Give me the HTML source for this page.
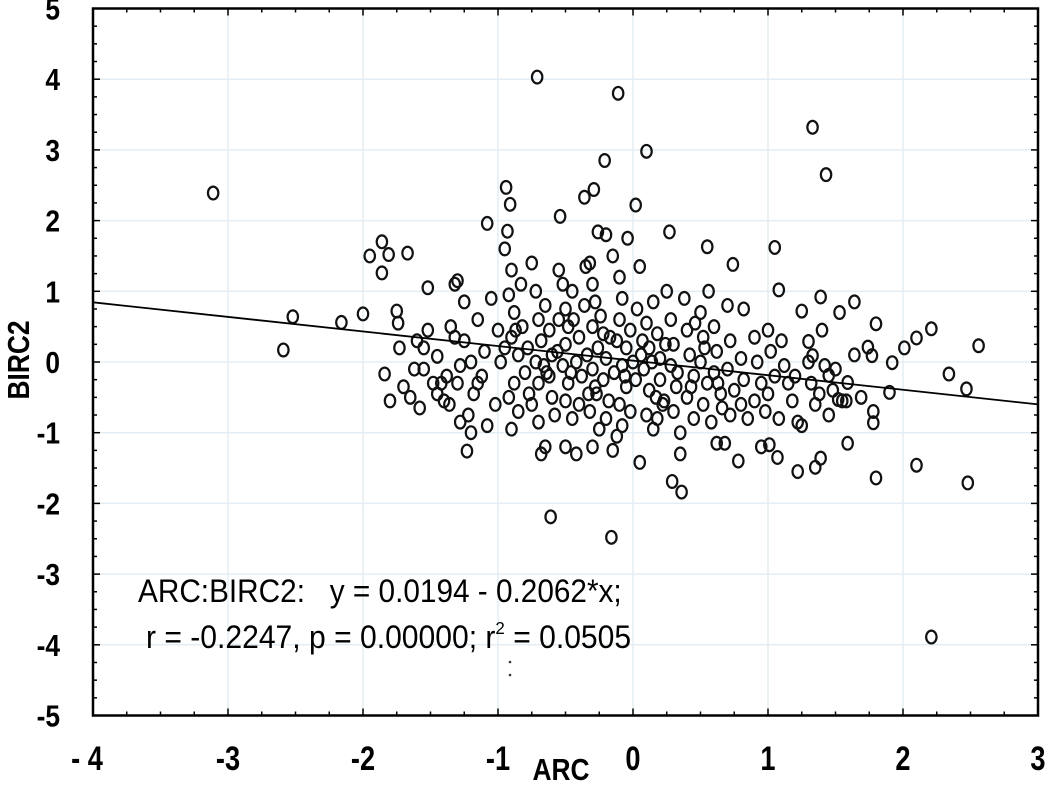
<!DOCTYPE html>
<html><head><meta charset="utf-8"><style>
html,body{margin:0;padding:0;background:#fff;}
svg{display:block;font-family:"Liberation Sans",Arial,sans-serif;}
</style></head><body>
<svg id="chart" width="1050" height="786" viewBox="0 0 1050 786">
<g id="grid"></g>
<g id="points"></g>
<g id="axes"></g>
<g transform="translate(29 360) rotate(-90) scale(0.85 1)"><text x="0" y="0" text-anchor="middle" font-size="31" font-weight="bold">BIRC2</text></g>
<g transform="translate(561 780) scale(0.85 1)"><text x="0" y="0" text-anchor="middle" font-size="31" font-weight="bold">ARC</text></g>
<text x="138" y="602" font-size="32" transform="translate(138 0) scale(0.93 1) translate(-138 0)">ARC:BIRC2:&#160;&#160;&#160;y = 0.0194 - 0.2062*x;</text>
<text x="146" y="648" font-size="32" transform="translate(146 0) scale(0.94 1) translate(-146 0)">r = -0.2247, p = 0.00000; r<tspan font-size="18" dy="-14">2</tspan><tspan dy="14"> = 0.0505</tspan></text>
<circle cx="510" cy="662" r="1.3" fill="#333"/>
<circle cx="510" cy="675" r="1.3" fill="#333"/>
</svg>
<script>
const xTicks=[-4,-3,-2,-1,0,1,2,3];
const yTicks=[5,4,3,2,1,0,-1,-2,-3,-4,-5];
const xTickLabels=["- 4","-3","-2","-1","0","1","2","3"];
const yTickLabels=["5","4","3","2","1","0","-1","-2","-3","-4","-5"];
const intercept=0.0194, slope=-0.2062;
const xs=[-3.11,-0.71,-0.11,1.33,1.43,0.10,-0.21,-0.94,-0.91,-1.08,-0.54,0.02,-0.26,-0.36,-0.29,0.27,0.55,1.05,0.74,-1.86,-1.67,-1.95,-1.81,-1.86,-2.52,-2.59,-2.16,-2.00,-1.75,-1.74,-1.52,-1.73,-1.84,-1.80,-1.23,-0.61,-0.16,0.05,0.29,0.36,1.07,1.01,1.22,1.35,1.39,1.59,1.80,2.10,2.48,2.21,2.34,2.47,2.56,2.10,2.21,2.01,1.80,1.64,1.53,1.25,1.30,1.39,1.08,1.33,1.64,1.74,1.77,1.92,1.78,1.78,1.69,1.90,1.52,1.59,1.45,
-1.52,-1.45,-1.48,-1.40,-1.55,-1.35,-1.30,-1.32,-1.28,-1.38,
-1.25,-1.2,-1.18,-1.22,-1.15,-1.1,-1.12,-1.05,-1.08,-1.0,-1.02,-0.98,-1.15,
-0.95,-0.93,-0.9,-0.92,-0.88,-0.9,-0.85,-0.88,-0.92,-0.85,-0.9,-0.95,-0.82,-0.8,-0.83,
-0.75,-0.72,-0.7,-0.68,-0.72,-0.7,-0.75,-0.7,-0.65,-0.68,-0.65,-0.62,-0.6,-0.62,-0.6,-0.58,-0.66,-0.78,
-0.55,-0.52,-0.5,-0.48,-0.5,-0.52,-0.48,-0.5,-0.45,-0.5,-0.42,-0.45,-0.4,-0.42,-0.38,-0.4,-0.55,-0.36,-0.35,
-0.32,-0.3,-0.28,-0.3,-0.26,-0.3,-0.28,-0.32,-0.25,-0.3,-0.22,-0.2,-0.22,-0.18,-0.2,-0.15,-0.2,-0.15,-0.24,-0.12,
-0.1,-0.08,-0.1,-0.05,-0.08,-0.05,-0.1,-0.08,-0.12,-0.02,0.0,0.02,-0.02,0.03,0.05,-0.14,-0.04,
0.1,0.12,0.08,0.12,0.1,0.15,0.15,0.18,0.2,0.2,0.22,0.18,0.25,0.28,0.3,0.28,0.32,0.3,0.35,0.35,0.38,0.4,0.42,0.45,0.4,0.45,0.14,
0.5,0.52,0.5,0.55,0.52,0.58,0.6,0.62,0.6,0.65,0.62,0.68,0.7,0.72,0.7,0.75,0.72,0.78,0.8,0.82,0.8,0.85,0.82,0.56,0.66,0.46,
0.9,0.92,0.95,0.9,0.98,1.0,1.02,1.05,1.0,1.08,1.1,1.12,1.15,1.18,1.2,1.22,1.25,1.3,1.32,1.35,1.38,1.4,1.42,1.45,1.48,1.5,1.55,1.58,0.95,
-1.6,-1.65,-1.7,-1.58,-1.62,-1.55,-1.45,-1.42,-1.36,-1.3,-1.32,-1.25,-1.2,-1.28,
-0.64,-0.56,-0.46,-0.34,-0.27,-0.17,-0.06,0.06,0.17,0.24,0.33,0.43,0.53,0.63,-0.77,-0.87,-0.44,-0.33,0.07,0.23];
const ys=[2.39,4.03,3.80,3.32,2.65,2.98,2.85,2.47,2.23,1.96,2.06,2.22,1.84,2.33,2.44,1.84,1.63,1.62,1.38,1.70,1.54,1.50,1.52,1.26,0.64,0.17,0.56,0.68,0.72,0.55,1.05,0.20,-0.17,-0.55,-1.26,-2.19,-2.48,-1.42,-1.69,-1.84,-1.35,-1.17,-1.55,-1.49,-1.36,-1.15,-1.64,-1.46,-1.71,-3.89,-0.17,-0.38,0.23,0.34,0.47,0.20,0.54,0.85,0.70,0.72,0.29,0.92,1.02,0.09,0.10,0.21,0.09,-0.01,-0.70,-0.86,-0.50,-0.43,-0.53,-0.29,-0.19,
0.45,0.08,-0.3,-0.55,-0.1,0.5,1.15,1.1,-0.85,-0.2,
0.3,0.0,-0.45,-0.75,0.6,0.15,-0.2,0.9,-0.9,0.45,-0.6,0.0,-0.3,
1.6,1.85,1.3,0.95,0.7,0.35,0.1,-0.3,-0.5,-0.7,-0.95,0.2,0.5,-0.15,1.1,
1.4,1.0,0.6,0.3,0.0,-0.3,-0.6,-0.85,-1.2,-1.3,0.8,0.45,0.1,-0.2,-0.5,-0.75,-0.05,0.2,
1.3,1.1,0.75,0.5,0.25,-0.05,-0.3,-0.55,-0.8,-1.2,-1.3,1.0,0.35,0.0,-0.2,-0.6,0.6,0.8,1.35,
1.4,1.1,0.85,0.5,0.2,-0.1,-0.35,-0.7,-0.95,-1.2,0.4,0.05,-0.25,-0.55,-0.8,-1.25,1.8,1.5,0.65,0.3,
1.2,0.9,0.6,0.2,-0.05,-0.35,-0.6,-0.9,-1.05,0.45,0.0,-0.25,-0.7,0.75,1.35,-0.15,1.75,
0.55,0.2,-0.1,-0.4,-0.75,-0.95,0.85,0.4,0.05,-0.25,-0.6,-0.8,1.0,0.6,0.25,-0.05,-0.35,-0.7,-1.0,-1.3,0.9,0.45,0.1,-0.2,-0.5,-0.8,0.0,
0.7,0.35,0.0,-0.3,-0.6,-0.85,0.5,0.15,-0.15,-0.45,-1.15,-1.15,0.8,0.3,-0.1,-0.4,-0.75,-1.4,0.05,-0.25,-0.6,-0.8,0.75,1.0,-0.65,0.55,
0.35,0.0,-0.3,-0.55,-0.7,0.45,0.15,-0.2,-0.45,-0.8,0.3,-0.05,-0.3,-0.55,-0.2,-0.85,-0.9,0.0,-0.3,-0.6,-0.45,0.45,-0.05,-0.75,-0.4,-0.1,-0.55,-0.55,-1.2,
0.3,-0.5,-0.35,-0.65,-0.1,0.2,-0.45,-0.3,-0.6,-0.3,0.35,0.85,-1.0,-0.05,
-0.15,0.15,-0.15,0.1,-0.45,0.35,-0.2,0.1,-0.5,0.25,-0.15,-0.35,0.2,-0.3,-0.45,0.45,0.6,-0.45,0.3,-0.55];

const L=93,R=1038,T=8.5,B=715.5,xMin=-4,xMax=3,yMin=-5,yMax=5;
const sx=v=>L+(v-xMin)/(xMax-xMin)*(R-L);
const sy=v=>B-(v-yMin)/(yMax-yMin)*(B-T);
const NS='http://www.w3.org/2000/svg';
function mk(tag,attrs,parent){const e=document.createElementNS(NS,tag);for(const k in attrs)e.setAttribute(k,attrs[k]);parent.appendChild(e);return e;}
const grid=document.getElementById('grid'),axes=document.getElementById('axes'),pts=document.getElementById('points');
xTicks.forEach((t,i)=>{
  if(i>0&&i<xTicks.length-1){const g=mk('line',{x1:sx(t),x2:sx(t),y1:T,y2:B,stroke:'#e3edf3','stroke-width':1.5},grid);
  
  }
  const gx=mk('g',{transform:'translate('+(sx(t)+(i==0?-6:0))+' 770) scale(0.8 1)'},axes);
  const tl=mk('text',{x:0,y:0,'text-anchor':'middle','font-size':34,'font-weight':'bold'},gx);
  tl.textContent=xTickLabels[i];
  
  
});
yTicks.forEach((t,i)=>{
  if(i>0&&i<yTicks.length-1){const g=mk('line',{x1:L,x2:R,y1:sy(t),y2:sy(t),stroke:'#e3edf3','stroke-width':1.5},grid);
  
  }
  const gy=mk('g',{transform:'translate(60 '+(sy(t)+11)+') scale(0.85 1)'},axes);
  const tl=mk('text',{x:0,y:0,'text-anchor':'end','font-size':31,'font-weight':'bold'},gy);
  tl.textContent=yTickLabels[i];
  
  
});
for(let v=xMin;v<=xMax+1e-9;v+=0.25){const m=Math.abs(v-Math.round(v))<1e-9;
  mk('line',{x1:sx(v),x2:sx(v),y1:B,y2:B-(m?7:4),stroke:'#000','stroke-width':1.5},axes);
  mk('line',{x1:sx(v),x2:sx(v),y1:T,y2:T+(m?7:4),stroke:'#000','stroke-width':1.5},axes);}
for(let v=yMin;v<=yMax+1e-9;v+=0.25){const m=Math.abs(v-Math.round(v))<1e-9;
  mk('line',{x1:L,x2:L+(m?7:4),y1:sy(v),y2:sy(v),stroke:'#000','stroke-width':1.5},axes);
  mk('line',{x1:R,x2:R-(m?7:4),y1:sy(v),y2:sy(v),stroke:'#000','stroke-width':1.5},axes);}
const fr=mk('rect',{x:L,y:T,width:R-L,height:B-T,fill:'none',stroke:'#000','stroke-width':2.5},axes);


xs.forEach((x,i)=>{const e=mk('ellipse',{cx:sx(x),cy:sy(ys[i]),rx:5.2,ry:6.4,fill:'none',stroke:'#111','stroke-width':2.2},pts);
  
  });
const rl=mk('line',{x1:sx(xMin),y1:sy(intercept+slope*xMin),x2:sx(xMax),y2:sy(intercept+slope*xMax),stroke:'#000','stroke-width':1.8},axes);


</script>
</body></html>
